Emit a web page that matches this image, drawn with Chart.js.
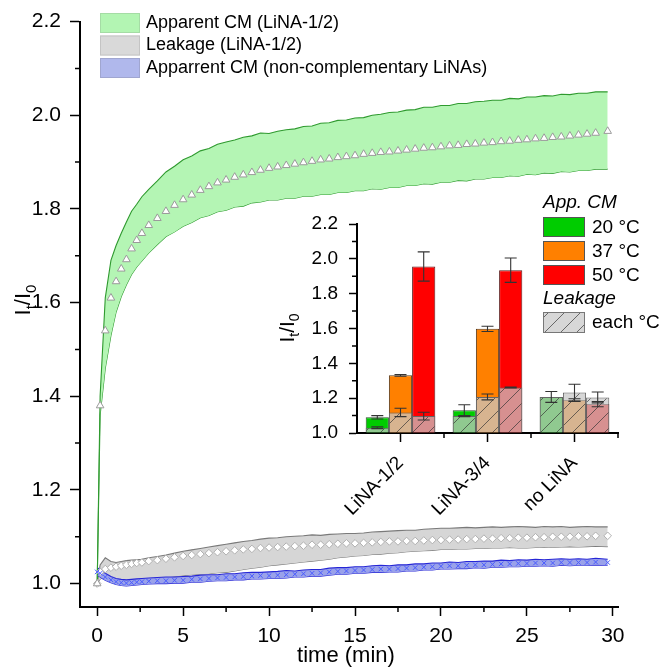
<!DOCTYPE html>
<html>
<head>
<meta charset="utf-8">
<script src="https://cdn.jsdelivr.net/npm/chart.js@4.4.0/dist/chart.umd.min.js"></script>
<style>
  html, body { margin: 0; padding: 0; background: #fff; }
  #wrap { position: relative; width: 661px; height: 672px; }
  #main { position: absolute; left: 0; top: 0; }
  #inset { position: absolute; left: 260px; top: 185px; }
</style>
</head>
<body>
<div id="wrap">
  <canvas id="main" width="661" height="672"></canvas>
  <canvas id="inset" width="401" height="340"></canvas>
</div>
<script>
// time axis (min)
const timeMin = [0, 0.17, 0.47, 0.8, 1.1, 1.4, 1.7, 2.0, 2.3, 2.6,
  3, 3.5, 4, 4.5, 5, 5.5, 6, 6.5, 7, 7.5,
  8, 8.5, 9, 9.5, 10, 10.5, 11, 11.5, 12, 12.5,
  13, 13.5, 14, 14.5, 15, 15.5, 16, 16.5, 17, 17.5,
  18, 18.5, 19, 19.5, 20, 20.5, 21, 21.5, 22, 22.5,
  23, 23.5, 24, 24.5, 25, 25.5, 26, 26.5, 27, 27.5,
  28, 28.5, 29, 29.7]

// apparent CM (LiNA-1/2): mean and band
const cmMean = [1.00, 1.38, 1.54, 1.61, 1.645, 1.672, 1.692, 1.715, 1.733, 1.748,
  1.765, 1.78, 1.795, 1.808, 1.82, 1.83, 1.84, 1.848, 1.856, 1.862,
  1.868, 1.873, 1.878, 1.883, 1.887, 1.89, 1.893, 1.896, 1.899, 1.902,
  1.905, 1.907, 1.91, 1.912, 1.914, 1.917, 1.919, 1.921, 1.922, 1.924,
  1.926, 1.928, 1.93, 1.931, 1.933, 1.935, 1.936, 1.938, 1.939, 1.941,
  1.942, 1.944, 1.945, 1.947, 1.948, 1.95, 1.951, 1.953, 1.954, 1.956,
  1.958, 1.96, 1.962, 1.966]
const cmHigh = [1.00, 1.40, 1.61, 1.69, 1.722, 1.748, 1.772, 1.795, 1.81, 1.826,
  1.842, 1.86, 1.879, 1.891, 1.905, 1.913, 1.924, 1.929, 1.938, 1.943,
  1.947, 1.953, 1.956, 1.962, 1.961, 1.966, 1.969, 1.971, 1.976, 1.977,
  1.983, 1.984, 1.989, 1.99, 1.994, 1.995, 2.0, 2.002, 2.006, 2.007,
  2.011, 2.012, 2.017, 2.017, 2.021, 2.021, 2.025, 2.025, 2.029, 2.03,
  2.032, 2.032, 2.036, 2.035, 2.039, 2.039, 2.042, 2.041, 2.045, 2.044,
  2.047, 2.047, 2.05, 2.05]
const cmLow = [1.00, 1.36, 1.46, 1.53, 1.58, 1.613, 1.638, 1.66, 1.676, 1.689,
  1.706, 1.724, 1.741, 1.751, 1.763, 1.771, 1.781, 1.786, 1.794, 1.797,
  1.804, 1.806, 1.813, 1.815, 1.819, 1.819, 1.823, 1.823, 1.827, 1.827,
  1.831, 1.831, 1.835, 1.835, 1.839, 1.839, 1.843, 1.842, 1.846, 1.846,
  1.85, 1.85, 1.854, 1.853, 1.857, 1.857, 1.861, 1.86, 1.864, 1.864,
  1.867, 1.867, 1.871, 1.87, 1.874, 1.873, 1.877, 1.876, 1.88, 1.879,
  1.882, 1.882, 1.885, 1.885]

// leakage (LiNA-1/2)
const lkMean = [1.00, 1.025, 1.031, 1.034, 1.036, 1.038, 1.04, 1.042, 1.044, 1.045,
  1.048, 1.05, 1.053, 1.056, 1.059, 1.061, 1.063, 1.065, 1.067, 1.069,
  1.071, 1.073, 1.074, 1.076, 1.077, 1.078, 1.079, 1.08, 1.081, 1.083,
  1.083, 1.084, 1.085, 1.086, 1.086, 1.087, 1.088, 1.089, 1.09, 1.09,
  1.091, 1.091, 1.092, 1.093, 1.093, 1.094, 1.094, 1.095, 1.095, 1.096,
  1.096, 1.097, 1.097, 1.098, 1.098, 1.099, 1.099, 1.1, 1.1, 1.1,
  1.101, 1.101, 1.102, 1.102]
const lkHigh = [1.00, 1.04, 1.055, 1.047, 1.045, 1.047, 1.049, 1.05, 1.051, 1.052,
  1.055, 1.058, 1.061, 1.065, 1.069, 1.072, 1.075, 1.078, 1.081, 1.084,
  1.087, 1.09, 1.092, 1.095, 1.097, 1.098, 1.1, 1.101, 1.102, 1.104,
  1.103, 1.105, 1.106, 1.107, 1.107, 1.108, 1.11, 1.111, 1.112, 1.113,
  1.114, 1.114, 1.116, 1.117, 1.118, 1.118, 1.119, 1.12, 1.119, 1.12,
  1.121, 1.12, 1.121, 1.122, 1.121, 1.12, 1.122, 1.121, 1.122, 1.12,
  1.121, 1.122, 1.121, 1.121]
const lkLow = [1.00, 1.01, 1.015, 1.012, 1.008, 1.006, 1.005, 1.006, 1.006, 1.007,
  1.008, 1.011, 1.013, 1.015, 1.017, 1.019, 1.02, 1.021, 1.023, 1.024,
  1.027, 1.03, 1.033, 1.035, 1.038, 1.04, 1.042, 1.044, 1.046, 1.048,
  1.05, 1.052, 1.055, 1.057, 1.059, 1.06, 1.062, 1.063, 1.065, 1.066,
  1.068, 1.069, 1.07, 1.071, 1.073, 1.073, 1.074, 1.074, 1.075, 1.075,
  1.076, 1.076, 1.077, 1.076, 1.076, 1.077, 1.078, 1.077, 1.078, 1.079,
  1.078, 1.079, 1.08, 1.079]

// apparent CM (non-complementary LiNAs)
const ncMean = [1.025, 1.022, 1.014, 1.008, 1.004, 1.002, 1.001, 1.002, 1.003, 1.004,
  1.005, 1.006, 1.006, 1.007, 1.007, 1.009, 1.01, 1.011, 1.012, 1.013,
  1.014, 1.015, 1.016, 1.017, 1.017, 1.018, 1.019, 1.02, 1.021, 1.022,
  1.023, 1.025, 1.026, 1.027, 1.028, 1.029, 1.03, 1.031, 1.031, 1.032,
  1.033, 1.034, 1.035, 1.036, 1.037, 1.038, 1.038, 1.039, 1.04, 1.04,
  1.041, 1.042, 1.042, 1.043, 1.043, 1.044, 1.044, 1.044, 1.045, 1.045,
  1.045, 1.045, 1.046, 1.045]
const ncHigh = [1.033, 1.031, 1.022, 1.015, 1.011, 1.009, 1.008, 1.009, 1.01, 1.011,
  1.012, 1.013, 1.014, 1.014, 1.015, 1.016, 1.018, 1.019, 1.019, 1.021,
  1.021, 1.023, 1.024, 1.024, 1.025, 1.026, 1.028, 1.027, 1.029, 1.03,
  1.03, 1.033, 1.034, 1.034, 1.036, 1.036, 1.038, 1.039, 1.038, 1.04,
  1.04, 1.042, 1.042, 1.044, 1.044, 1.046, 1.045, 1.047, 1.047, 1.048,
  1.048, 1.05, 1.049, 1.051, 1.05, 1.052, 1.051, 1.052, 1.053, 1.052,
  1.053, 1.052, 1.054, 1.052]
const ncLow = [1.018, 1.014, 1.007, 1.002, 0.998, 0.996, 0.995, 0.996, 0.997, 0.998,
  0.999, 1.0, 1.0, 1.001, 1.001, 1.003, 1.003, 1.005, 1.006, 1.006,
  1.008, 1.008, 1.01, 1.01, 1.011, 1.011, 1.012, 1.014, 1.014, 1.016,
  1.016, 1.018, 1.02, 1.02, 1.022, 1.022, 1.024, 1.024, 1.025, 1.025,
  1.027, 1.027, 1.029, 1.029, 1.031, 1.031, 1.032, 1.032, 1.034, 1.033,
  1.035, 1.035, 1.036, 1.036, 1.037, 1.037, 1.038, 1.037, 1.039, 1.038,
  1.039, 1.039, 1.04, 1.039]

const xTicks = [0, 5, 10, 15, 20, 25, 30]
const xMinor = [2.5, 7.5, 12.5, 17.5, 22.5, 27.5]
const yTicks = [1.0, 1.2, 1.4, 1.6, 1.8, 2.0, 2.2]
const yMinor = [1.1, 1.3, 1.5, 1.7, 1.9, 2.1]

// inset bars
const groups = ['LiNA-1/2', 'LiNA-3/4', 'no LiNA']
const temps = ['20 °C', '37 °C', '50 °C']
const appCM20 = [1.09, 1.131, 1.207]
const appCM37 = [1.331, 1.598, 1.189]
const appCM50 = [1.956, 1.935, 1.166]
const errCM20 = [0.01, 0.031, 0.031]
const errCM37 = [0.005, 0.015, 0.008]
const errCM50 = [0.084, 0.07, 0.015]
const leak20 = [1.03, 1.097, 1.207]
const leak37 = [1.118, 1.207, 1.232]
const leak50 = [1.097, 1.261, 1.204]
const errLeak20 = [0.005, 0.003, 0]
const errLeak37 = [0.024, 0.017, 0.048]
const errLeak50 = [0.022, 0.003, 0.031]
const insetTicks = [1.0, 1.2, 1.4, 1.6, 1.8, 2.0, 2.2]
const insetMinor = [1.1, 1.3, 1.5, 1.7, 1.9, 2.1]
const groupEdges = [0.5, 1.5, 2.5]

const FONT = '"Liberation Sans", Arial, Helvetica, sans-serif'

// I_t/I_0 with subscripts
function drawRatioTitle(ctx, cx, cy, size, vertical) {
  const big = size + 'px ' + FONT
  const small = Math.round(size * 0.66) + 'px ' + FONT
  const parts = [['I', big, 0], ['t', small, size * 0.28], ['/I', big, 0], ['0', small, size * 0.28]]
  ctx.save()
  ctx.translate(cx, cy)
  if (vertical) ctx.rotate(-Math.PI / 2)
  let w = 0
  parts.forEach(p => { ctx.font = p[1]; w += ctx.measureText(p[0]).width })
  let x = -w / 2
  ctx.fillStyle = '#000'
  ctx.textAlign = 'left'
  ctx.textBaseline = 'alphabetic'
  parts.forEach(p => {
    ctx.font = p[1]
    ctx.fillText(p[0], x, size * 0.36 + p[2])
    x += ctx.measureText(p[0]).width
  })
  ctx.restore()
}

function makeHatch() {
  const c = document.createElement('canvas')
  c.width = 16; c.height = 16
  const g = c.getContext('2d')
  g.fillStyle = 'rgba(200,200,200,0.72)'
  g.fillRect(0, 0, 16, 16)
  g.strokeStyle = 'rgba(50,50,50,0.75)'
  g.lineWidth = 0.9
  g.beginPath()
  g.moveTo(0, 16); g.lineTo(16, 0)
  g.moveTo(-8, 8); g.lineTo(8, -8)
  g.moveTo(8, 24); g.lineTo(24, 8)
  g.stroke()
  return g.createPattern(c, 'repeat')
}

const pts = arr => timeMin.map((t, i) => ({ x: t, y: arr[i] }))

function band(label, hi, lo, fill, line, order) {
  return [
    { label, data: pts(hi), borderColor: line, borderWidth: 1.1, backgroundColor: fill, fill: '+1', pointRadius: 0, order },
    { label: '', data: pts(lo), borderColor: line, borderWidth: 1.1, backgroundColor: fill, fill: false, pointRadius: 0, order }
  ]
}

const legendItems = [
  { text: 'Apparent CM (LiNA-1/2)', fill: '#b3f5b3', stroke: '#a5dca5' },
  { text: 'Leakage (LiNA-1/2)', fill: '#d9d9d9', stroke: '#c4c4c4' },
  { text: 'Apparrent CM (non-complementary LiNAs)', fill: '#b0b8ec', stroke: '#a0a6d0' }
]

const mainDecor = {
  id: 'mainDecor',
  afterDraw(chart) {
    const { ctx, scales: { x, y } } = chart
    ctx.save()
    ctx.strokeStyle = '#000'
    ctx.lineWidth = 1.5
    ctx.beginPath()
    xMinor.forEach(v => { const p = x.getPixelForValue(v); ctx.moveTo(p, x.top); ctx.lineTo(p, x.top + 5) })
    yMinor.forEach(v => { const p = y.getPixelForValue(v); ctx.moveTo(y.right, p); ctx.lineTo(y.right - 5, p) })
    ctx.stroke()

    ctx.fillStyle = '#000'
    ctx.font = '22px ' + FONT
    ctx.textAlign = 'center'
    ctx.textBaseline = 'middle'
    ctx.fillText('time (min)', 346, 656)
    drawRatioTitle(ctx, 22, 300, 22, true)

    // legend
    legendItems.forEach((it, i) => {
      const top = 13 + i * 22.5
      ctx.fillStyle = it.fill
      ctx.fillRect(100, top, 40, 20)
      ctx.strokeStyle = it.stroke
      ctx.lineWidth = 1
      ctx.strokeRect(100.5, top + 0.5, 39, 19)
      ctx.fillStyle = '#000'
      ctx.font = '18px ' + FONT
      ctx.textAlign = 'left'
      ctx.textBaseline = 'middle'
      ctx.fillText(it.text, 146, top + 10)
    })
    ctx.restore()
  }
}

new Chart(document.getElementById('main'), {
  type: 'line',
  data: {
    datasets: [
      ...band('Leakage (LiNA-1/2)', lkHigh, lkLow, '#d6d6d6', '#7a7a7a', 6),
      ...band('Apparrent CM (non-complementary LiNAs)', ncHigh, ncLow, '#9aa2ea', '#2626d6', 5),
      ...band('Apparent CM (LiNA-1/2)', cmHigh, cmLow, '#b4f5b4', '#2f9a2f', 4),
      { label: '', data: pts(lkMean), showLine: false, pointStyle: 'rectRot', pointRadius: 3.8,
        pointBackgroundColor: '#fff', pointBorderColor: '#b0b0b0', pointBorderWidth: 1, order: 2 },
      { label: '', data: pts(ncMean), showLine: false, pointStyle: 'crossRot', pointRadius: 3.2,
        pointBorderColor: '#4a5cff', pointBorderWidth: 1, order: 1 },
      { label: '', data: pts(cmMean), showLine: false, pointStyle: 'triangle', pointRadius: 4.4,
        pointBackgroundColor: '#fff', pointBorderColor: '#9a9a9a', pointBorderWidth: 1, order: 0 }
    ]
  },
  options: {
    responsive: false,
    animation: false,
    events: [],
    elements: { line: { tension: 0 } },
    layout: { padding: { top: 10, right: 43, left: 0, bottom: 0 } },
    plugins: { legend: { display: false }, tooltip: { enabled: false } },
    scales: {
      x: {
        type: 'linear', min: -1, max: 30.3,
        afterBuildTicks: s => { s.ticks = xTicks.map(v => ({ value: v })) },
        afterFit: s => { s.height = 65 },
        ticks: { font: { family: FONT, size: 21 }, color: '#000', padding: 8, maxRotation: 0, autoSkip: false },
        grid: { drawOnChartArea: false, drawTicks: true, tickLength: 9, tickWidth: 1.5, tickColor: '#000' },
        border: { display: true, color: '#000', width: 2 }
      },
      y: {
        type: 'linear', min: 0.95, max: 2.2,
        afterBuildTicks: s => { s.ticks = yTicks.map(v => ({ value: v })) },
        afterFit: s => { s.width = 80 },
        ticks: { font: { family: FONT, size: 21 }, color: '#000', padding: 9, callback: v => v.toFixed(1) },
        grid: { drawOnChartArea: false, drawTicks: true, tickLength: 10, tickWidth: 1.5, tickColor: '#000' },
        border: { display: true, color: '#000', width: 2 }
      }
    }
  },
  plugins: [mainDecor]
})

// ---- inset ----
const hatch = makeHatch()

const insetDecor = {
  id: 'insetDecor',
  afterDatasetsDraw(chart) {
    const { ctx } = chart
    const yS = chart.scales.y
    ctx.save()
    ctx.strokeStyle = '#333'
    ctx.lineWidth = 1.1
    chart.data.datasets.forEach((ds, di) => {
      const meta = chart.getDatasetMeta(di)
      meta.data.forEach((bar, i) => {
        const err = ds.errors[i]
        if (!err) return
        const v = ds.data[i]
        const t = yS.getPixelForValue(v + err)
        const b = yS.getPixelForValue(v - err)
        ctx.beginPath()
        ctx.moveTo(bar.x, t); ctx.lineTo(bar.x, b)
        ctx.moveTo(bar.x - 6, t); ctx.lineTo(bar.x + 6, t)
        ctx.moveTo(bar.x - 6, b); ctx.lineTo(bar.x + 6, b)
        ctx.stroke()
      })
    })
    ctx.restore()
  },
  afterDraw(chart) {
    const { ctx, scales: { x, y } } = chart
    ctx.save()
    ctx.strokeStyle = '#000'
    ctx.lineWidth = 1.5
    ctx.beginPath()
    groupEdges.forEach(v => { const p = x.getPixelForValue(v); ctx.moveTo(p, x.top); ctx.lineTo(p, x.top + 5) })
    insetMinor.forEach(v => { const p = y.getPixelForValue(v); ctx.moveTo(y.right, p); ctx.lineTo(y.right - 5, p) })
    ctx.stroke()

    drawRatioTitle(ctx, 26, 143, 21, true)

    // legend
    const lx = 283
    ctx.fillStyle = '#000'
    ctx.textAlign = 'left'
    ctx.textBaseline = 'middle'
    ctx.font = 'italic 19px ' + FONT
    ctx.fillText('App. CM', lx, 18)
    const cols = ['#00cc00', '#ff8000', '#ff0000']
    temps.forEach((t, i) => {
      const top = 32 + i * 24
      ctx.fillStyle = cols[i]
      ctx.fillRect(lx, top, 42, 20)
      ctx.strokeStyle = '#555'
      ctx.lineWidth = 1
      ctx.strokeRect(lx + 0.5, top + 0.5, 41, 19)
      ctx.fillStyle = '#000'
      ctx.font = '19px ' + FONT
      ctx.fillText(t, lx + 49, top + 11)
    })
    ctx.font = 'italic 19px ' + FONT
    ctx.fillText('Leakage', lx, 114)
    ctx.fillStyle = hatch
    ctx.fillRect(lx, 127, 42, 21)
    ctx.strokeStyle = '#777'
    ctx.strokeRect(lx + 0.5, 127.5, 41, 20)
    ctx.fillStyle = '#000'
    ctx.font = '19px ' + FONT
    ctx.fillText('each °C', lx + 49, 138)
    ctx.restore()
  }
}

// same stack name = same slot in the group, y is not stacked so bars overlap
const barCommon = { base: 1, borderWidth: 1, borderSkipped: 'start', barPercentage: 1, categoryPercentage: 0.8 }

new Chart(document.getElementById('inset'), {
  type: 'bar',
  data: {
    labels: groups,
    datasets: [
      { ...barCommon, label: temps[0], data: appCM20, errors: errCM20, backgroundColor: '#00cc00', borderColor: '#2d4d2d', stack: 's20', order: 2 },
      { ...barCommon, label: temps[1], data: appCM37, errors: errCM37, backgroundColor: '#ff8000', borderColor: '#5a3a1a', stack: 's37', order: 2 },
      { ...barCommon, label: temps[2], data: appCM50, errors: errCM50, backgroundColor: '#ff0000', borderColor: '#5a1a1a', stack: 's50', order: 2 },
      { ...barCommon, label: 'Leakage 20', data: leak20, errors: errLeak20, backgroundColor: hatch, borderColor: '#666', stack: 's20', order: 1 },
      { ...barCommon, label: 'Leakage 37', data: leak37, errors: errLeak37, backgroundColor: hatch, borderColor: '#666', stack: 's37', order: 1 },
      { ...barCommon, label: 'Leakage 50', data: leak50, errors: errLeak50, backgroundColor: hatch, borderColor: '#666', stack: 's50', order: 1 }
    ]
  },
  options: {
    responsive: false,
    animation: false,
    events: [],
    layout: { padding: { top: 39, right: 43, left: 0, bottom: 0 } },
    plugins: { legend: { display: false }, tooltip: { enabled: false } },
    scales: {
      x: {
        type: 'category', offset: true,
        afterFit: s => { s.height = 92 },
        ticks: { font: { family: FONT, size: 19 }, color: '#000', padding: 10, minRotation: 45, maxRotation: 45, autoSkip: false },
        grid: { offset: false, drawOnChartArea: false, drawTicks: true, tickLength: 9, tickWidth: 1.5, tickColor: '#000' },
        border: { display: true, color: '#000', width: 2 }
      },
      y: {
        type: 'linear', min: 1.0, max: 2.2, stacked: false,
        afterBuildTicks: s => { s.ticks = insetTicks.map(v => ({ value: v })) },
        afterFit: s => { s.width = 97 },
        ticks: { font: { family: FONT, size: 19 }, color: '#000', padding: 11, callback: v => v.toFixed(1) },
        grid: { drawOnChartArea: false, drawTicks: true, tickLength: 8, tickWidth: 1.5, tickColor: '#000' },
        border: { display: true, color: '#000', width: 2 }
      }
    }
  },
  plugins: [insetDecor]
})
</script>
</body>
</html>
